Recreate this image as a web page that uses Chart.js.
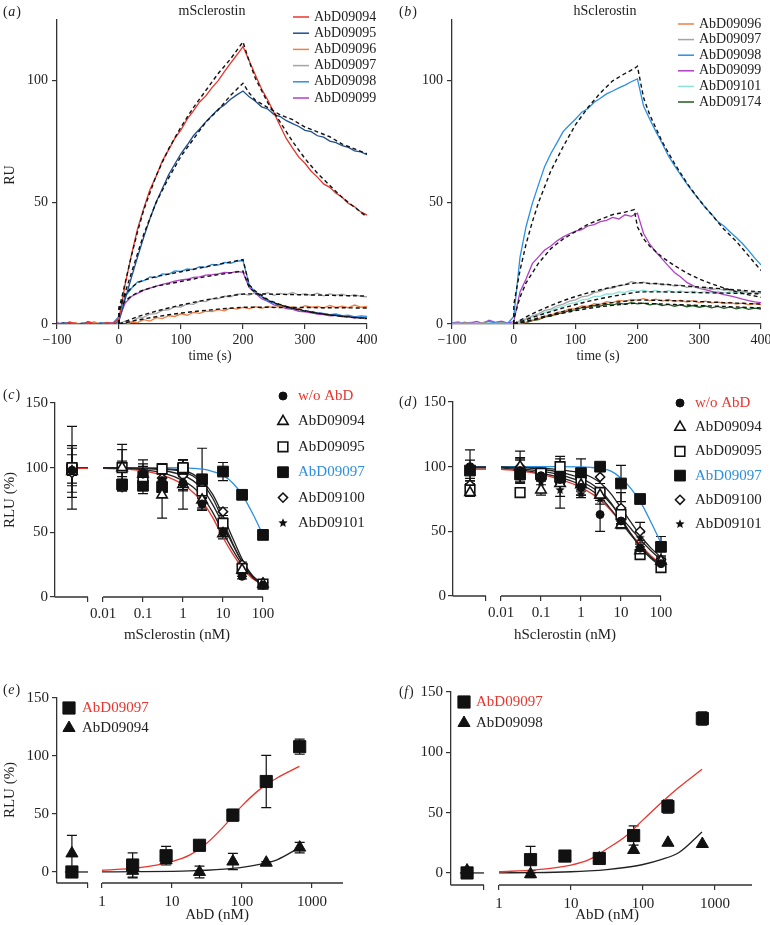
<!DOCTYPE html>
<html>
<head>
<meta charset="utf-8">
<script src="https://cdn.jsdelivr.net/npm/chart.js@4.4.1/dist/chart.umd.min.js"></script>
<style>
  body { margin: 0; background: #fff; width: 770px; height: 925px; position: relative; overflow: hidden; }
  canvas { position: absolute; }
</style>
</head>
<body>
<canvas id="pa" width="385" height="365" style="left:0;top:0"></canvas>
<canvas id="pb" width="385" height="365" style="left:385px;top:0"></canvas>
<canvas id="pc" width="385" height="285" style="left:0;top:365px"></canvas>
<canvas id="pd" width="385" height="285" style="left:385px;top:365px"></canvas>
<canvas id="pe" width="385" height="275" style="left:0;top:650px"></canvas>
<canvas id="pf" width="385" height="275" style="left:385px;top:650px"></canvas>
<script>
// ---- (a)/(b) sensorgrams, RU every 10 s from -100 to 400 s ----
const TIME = [-100,-90,-80,-70,-60,-50,-40,-30,-20,-10,
  0,10,20,30,40,50,60,70,80,90,100,110,120,130,140,150,160,170,180,190,200,
  210,220,230,240,250,260,270,280,290,300,310,320,330,340,350,360,370,380,390,400];

const A_09094 = [0.4,-0.3,0.6,0.1,-0.5,0.8,0.2,-0.2,0.5,0.3,
  2.1,16.4,28.3,39.2,47.6,55.3,60.8,67.2,71.6,76.3,79.8,84.2,87.6,91.3,93.8,97.2,100.1,103.8,107.3,110.6,114.1,
  108.2,102.4,96.6,92.1,86.8,81.4,76.2,72.3,68.6,66.1,62.8,60.4,57.6,56.2,53.8,52.1,49.6,48.2,46.1,44.8];
const A_09095 = [-0.2,0.5,0.1,-0.4,0.3,0.6,-0.1,0.4,0.2,-0.3,
  1.2,10.3,19.1,27.6,35.8,43.4,50.2,55.7,61.3,65.8,70.1,73.6,77.4,80.2,83.1,85.7,88.3,90.1,92.4,94.2,95.8,
  93.4,91.6,89.3,88.4,86.1,85.3,83.6,82.4,81.2,79.6,79.1,77.4,76.8,75.2,74.6,73.3,72.6,71.2,70.8,69.6];
const A_09096 = [0.3,-0.4,0.2,0.5,-0.3,0.1,0.9,-0.2,0.3,-0.1,
  0.2,-0.3,0.8,0.6,1.8,1.2,2.6,2.2,3.4,3.1,4.2,3.6,4.8,4.4,5.3,5.1,5.9,5.4,6.6,6.1,6.8,
  6.2,7.1,6.4,7.2,6.6,7.4,6.8,7.0,6.3,7.5,6.9,7.2,6.6,7.6,6.8,7.3,6.7,7.8,6.9,7.2];
const A_09097 = [-0.2,0.3,0.1,-0.3,0.4,0.0,-0.4,0.2,0.5,-0.1,
  0.1,1.2,0.8,2.4,2.8,4.1,4.3,5.6,5.8,7.1,7.0,8.3,8.1,9.4,9.2,10.4,10.3,11.4,11.2,12.3,12.4,
  11.9,12.8,12.0,12.9,11.8,12.6,12.1,13.0,11.9,12.5,11.8,12.7,11.6,12.4,11.9,12.3,11.5,12.1,11.4,11.2];
const A_09098 = [0.2,-0.3,0.4,0.1,-0.2,0.5,0.0,-0.4,0.3,0.2,
  3.2,11.4,14.6,17.3,17.8,19.4,19.1,20.6,20.4,21.8,21.6,22.7,22.4,23.6,23.3,24.5,24.2,25.3,24.9,25.8,26.1,
  16.3,12.8,11.2,9.4,8.6,7.3,7.1,6.2,6.0,5.3,5.1,4.6,4.4,3.8,4.1,3.4,3.6,2.9,3.3,3.1];
const A_09099 = [0.6,-0.2,0.9,0.3,-0.4,1.0,0.2,-0.3,0.7,0.4,
  2.1,8.6,11.3,12.6,13.9,14.8,15.6,16.3,16.9,17.6,18.1,18.4,19.2,19.4,20.1,20.3,20.6,21.2,21.0,21.6,21.2,
  15.1,12.6,10.4,9.3,7.9,7.2,6.3,6.0,5.2,5.0,4.6,4.1,3.9,3.4,3.6,2.9,3.2,2.4,2.8,2.6];

// fitted (dashed) curves of (a)
const FIT_T_A = [0,0,10,20,30,40,60,80,100,120,140,160,180,200,210,220,240,260,280,300,320,340,360,380,400];
const A_FIT_09094 = [0,6,17,28,38,47,61,72,81,89,96,103,109,116,108,101,91,83,75,68,62,57,52,48,44];
const A_FIT_09095 = [0,5,13,21,29,37,50,60,69,76,83,88,94,99,95,92,89,86,84,81,79,77,74,72,70];
const A_FIT_09096 = [0,0,0.5,1.1,1.6,2.1,3.0,3.8,4.5,5.1,5.6,6.1,6.5,6.9,6.9,6.9,6.9,6.8,6.8,6.8,6.7,6.7,6.7,6.6,6.6];
const A_FIT_09097 = [0,0,1,2,3,3.8,5.3,6.6,7.8,8.9,9.9,10.8,11.6,12.3,12.4,12.4,12.3,12.2,12.1,12,11.9,11.8,11.7,11.6,11.5];
const A_FIT_09098 = [0,7,12,15,17,18,19.5,20.5,21.5,22.5,23.5,24.5,25.5,26.5,16,13.5,10,8,6.5,5.5,4.5,3.8,3.2,2.7,2.3];
const A_FIT_09099 = [0,6,9.5,11.5,13,14,15.5,16.5,17.5,18.5,19.5,20.3,21,21.8,15,13,9.7,7.8,6.4,5.3,4.4,3.7,3.1,2.6,2.2];

const B_09096 = [0.2,-0.3,0.4,0.1,-0.2,0.3,0.0,-0.1,0.2,0.1,
  0.0,0.3,0.8,1.6,2.1,3.2,3.6,4.8,5.1,6.2,6.3,7.4,7.2,8.4,8.1,9.2,8.8,9.7,9.3,10.1,9.8,
  10.4,9.6,10.2,9.4,10.1,9.2,9.8,9.0,9.6,8.8,9.4,8.7,9.1,8.4,8.9,8.2,8.6,8.0,8.4,7.9];
const B_09097 = [0.1,0.4,-0.2,0.3,0.0,0.5,-0.1,0.2,0.4,0.0,
  0.2,1.3,2.1,3.4,4.2,5.6,6.1,7.5,8.2,9.4,9.9,11.2,11.6,12.9,13.4,14.6,14.8,15.9,16.1,17.4,16.8,
  17.2,16.4,16.9,16.0,16.4,15.6,16.0,15.1,15.5,14.7,15.0,14.2,14.6,13.8,14.1,13.3,13.6,12.8,13.1,12.6];
const B_09098 = [0.5,-0.2,0.8,0.3,-0.1,0.6,1.2,0.4,0.9,0.2,
  3.1,27.4,40.2,49.6,57.3,64.8,70.1,74.6,79.2,81.8,84.3,87.1,88.6,91.2,92.8,94.6,95.8,97.1,98.2,99.6,100.8,
  89.6,84.2,79.1,74.3,69.2,65.1,61.3,57.6,54.2,51.1,47.8,45.2,42.1,40.3,37.8,35.6,33.1,30.2,27.1,24.3];
const B_09099 = [0.3,0.8,-0.2,0.5,1.1,0.2,1.6,0.7,1.2,0.4,
  1.0,13.2,18.6,24.8,27.6,30.4,32.1,34.2,35.8,37.1,38.2,38.8,40.3,40.9,42.1,42.6,43.8,43.2,44.9,44.3,45.6,
  37.2,32.8,29.6,26.8,23.9,21.2,19.3,17.1,15.8,14.6,14.1,13.4,12.8,12.1,11.6,10.9,10.2,9.6,9.1,8.8];
const B_09101 = [0.6,1.0,0.3,0.8,0.5,0.2,0.7,0.4,0.9,0.3,
  0.1,0.9,1.8,2.9,3.6,4.8,5.4,6.6,7.3,8.4,8.8,9.9,10.2,11.3,11.4,12.4,12.3,13.2,13.0,13.8,13.4,
  13.9,13.2,13.8,13.1,13.7,13.0,13.6,12.9,13.5,12.8,13.4,12.9,13.5,12.7,13.3,12.8,13.4,12.6,13.2,12.9];
const B_09174 = [0.0,0.3,-0.2,0.2,-0.1,0.1,0.3,-0.2,0.1,0.0,
  0.0,0.2,0.6,1.4,1.8,2.9,3.2,4.3,4.6,5.6,5.8,6.7,6.8,7.6,7.4,8.2,7.8,8.6,8.1,8.8,8.3,
  8.6,7.9,8.4,7.6,8.1,7.3,7.9,7.1,7.6,6.9,7.4,6.6,7.2,6.4,7.0,6.2,6.8,6.0,6.5,6.1];

const FIT_T_B = [0,0,10,20,30,40,60,80,100,120,140,160,180,195,200,210,220,240,260,280,300,320,340,360,380,400];
const B_FIT_09096 = [0,0,0.5,1.1,1.8,2.5,3.9,5.2,6.3,7.3,8.1,8.8,9.4,9.7,9.8,9.8,9.8,9.7,9.6,9.4,9.2,9.0,8.8,8.6,8.4,8.2];
const B_FIT_09097 = [0,0,1.5,2.9,4.2,5.4,7.6,9.6,11.3,12.8,14.1,15.2,16.2,16.8,17.0,16.9,16.7,16.4,16.0,15.6,15.2,14.8,14.4,14.0,13.6,13.2];
const B_FIT_09098 = [0,8,22,33,42,50,63,73,82,89,95,100,103,105,106,93,86,75,66,58,51,45,39,34,28,22];
const B_FIT_09099 = [0,2,11,17,21,25,31,35,38,41,43,45,46,47,40,35,32,27.5,24,21,18.5,16.5,14.8,13.3,12,11];
const B_FIT_09101 = [0,0,0.9,1.8,2.7,3.5,5.1,6.6,8.0,9.3,10.4,11.4,12.3,12.9,13.1,13.2,13.2,13.2,13.1,13.0,12.9,12.8,12.7,12.6,12.5,12.4];
const B_FIT_09174 = [0,0,0.5,1.0,1.6,2.2,3.4,4.5,5.5,6.4,7.1,7.7,8.2,8.5,8.6,8.5,8.4,8.2,8.0,7.8,7.6,7.4,7.2,7.0,6.8,6.6];

// ---- (c)/(d) RLU (%) vs sclerostin (nM); 0 nM sits left of the axis break ----
const CONC_CD = [0, 0.03, 0.1, 0.3, 1, 3, 10, 30, 100];
const C_WO   = [98, 86, 95, 90, 88, 72, 50, 16, 9];
const C_WO_E = [12, 3, 4, 5, 5, 4, 3, 2, 1];
const C_94   = [97, 100, 95, 79, 87, 75, 49, 21, 10];
const C_94_E = [20, 18, 8, 18, 19, 6, 4, 2, 1];
const C_95   = [100, 100, 93, 99, 100, 82, 57, 22, 10];
const C_95_E = [32, 14, 13, 4, 6, 5, 4, 2, 1];
const C_97   = [99, 87, 86, 85, 99, 91, 97, 79, 48];
const C_97_E = [5, 4, 3, 4, 5, 24, 7, 2, 2];
const C_100  = [96, 85, 94, 92, 94, 85, 66, 25, 11];
const C_100_E= [8, 3, 4, 5, 12, 5, 3, 2, 1];
const C_101  = [98, 99, 97, 95, 92, 78, 55, 18, 9];
const C_101_E= [17, 6, 4, 8, 5, 4, 3, 2, 1];

const D_WO   = [100, 97, 93, 90, 84, 63, 58, 37, 25];
const D_WO_E = [13, 10, 4, 5, 6, 13, 4, 3, 2];
const D_94   = [80, 100, 82, 87, 86, 78, 55, 35, 27];
const D_94_E = [3, 12, 4, 19, 5, 4, 3, 3, 2];
const D_95   = [82, 80, 95, 100, 88, 80, 63, 32, 22];
const D_95_E = [3, 3, 5, 8, 10, 4, 4, 3, 2];
const D_97   = [97, 94, 94, 92, 95, 100, 87, 75, 38];
const D_97_E = [8, 6, 3, 4, 11, 3, 14, 3, 8];
const D_100  = [86, 100, 93, 93, 92, 92, 68, 50, 28];
const D_100_E= [5, 5, 4, 5, 4, 5, 12, 7, 3];
const D_101  = [85, 98, 88, 82, 79, 75, 58, 45, 26];
const D_101_E= [4, 8, 8, 5, 3, 4, 3, 4, 2];

// fitted curves, sampled at log10(nM)
const FIT_LOGX_CD = [-2, -1.5, -1, -0.5, 0, 0.25, 0.5, 0.75, 1, 1.25, 1.5, 1.75, 2];
const C_FIT_WO  = [99.5, 99, 97.5, 94, 87, 81, 73, 61, 46, 33, 22, 14, 10];
const C_FIT_94  = [99.8, 99.5, 98.5, 96, 90, 85, 77, 65, 50, 36, 24, 15, 10];
const C_FIT_95  = [100, 99.9, 99.7, 99, 97, 93.5, 87, 76, 59, 41, 26, 15, 9];
const C_FIT_97  = [100, 100, 100, 100, 99.8, 99.5, 98.8, 97, 94, 88, 78, 64, 48];
const C_FIT_100 = [100, 99.9, 99.8, 99.3, 98, 95, 89, 79, 63, 45, 28, 16, 10];
const C_FIT_101 = [100, 99.8, 99.5, 98, 94, 90, 83, 71, 56, 40, 26, 16, 10];
const D_FIT_WO  = [98, 96.5, 94, 90, 84, 79.5, 74, 66, 57, 48, 39, 31, 25];
const D_FIT_94  = [99, 97.5, 95, 91.5, 86, 82, 76, 67, 57, 47, 38, 30, 24];
const D_FIT_95  = [99.8, 99.3, 98, 95.5, 91, 87, 81, 72, 60, 48, 37, 29, 23];
const D_FIT_97  = [100, 100, 100, 100, 99.8, 99.4, 98.5, 96.5, 91, 83, 72, 57, 41];
const D_FIT_100 = [100, 99.7, 99, 97.5, 95, 92, 87, 79, 68, 57, 46, 37, 30];
const D_FIT_101 = [99.5, 98.5, 96.5, 93.5, 88.5, 84.5, 79, 71, 61, 52, 43, 35, 28];

// ---- (e)/(f) RLU (%) vs AbD (nM) ----
const CONC_EF = [0, 2.74, 8.23, 24.7, 74.1, 222, 667];
const E_97   = [0, 6, 14, 23, 49, 78, 108];
const E_97_E = [0, 10.5, 8, 2, 5, 22.5, 6.5];
const E_94   = [16, 1, 10, 0, 9, 8, 21];
const E_94_E = [15.5, 6, 2.5, 5, 7, 1, 4.5];
const F_97   = [0, 11, 14, 12, 31, 55, 128];
const F_97_E = [0, 11, 2, 1, 8, 5.5, 5.5];
const F_98   = [2, -1, 13, 12, 19, 25, 24];
const F_98_E = [1.5, 3, 0, 0, 0, 0, 0];

const FIT_LOGX_EF = [0, 0.5, 1, 1.25, 1.5, 1.75, 2, 2.25, 2.5, 2.82];
const E_FIT_97 = [1.5, 3.5, 9, 14.5, 25, 40, 57, 71, 81, 91];
const E_FIT_94 = [0.1, 0.3, 0.6, 0.9, 1.5, 2.5, 4, 6.5, 10.5, 21];
const F_FIT_97 = [1, 2.5, 6.5, 11, 20, 30, 44, 58, 71, 86];
const F_FIT_98 = [0.1, 0.3, 1, 1.7, 2.8, 4.5, 7, 11, 17, 34];

// ---- look ----
const SERIF = '"Liberation Serif", "Times New Roman", serif';
const INK = '#222';
const AXIS = '#333';
const RED = '#e8352d';
const NAVY = '#1f4f8e';
const ORANGE = '#ec8049';
const GREY = '#a4a4a4';
const SKY = '#2b8fe3';
const MAGENTA = '#b13fc8';
const CYAN = '#8fe2d8';
const GREEN = '#1f5d22';

Chart.defaults.font.family = SERIF;
Chart.defaults.color = INK;

function starImage(r) {
    const c = document.createElement('canvas');
    const s = Math.ceil(r * 2 + 2);
    c.width = c.height = s;
    const g = c.getContext('2d');
    g.fillStyle = '#111';
    g.beginPath();
    for (let i = 0; i < 10; i++) {
        const a = -Math.PI / 2 + i * Math.PI / 5;
        const rr = i % 2 ? r * 0.45 : r;
        g.lineTo(s / 2 + rr * Math.cos(a), s / 2 + rr * Math.sin(a));
    }
    g.closePath();
    g.fill();
    return c;
}

const MK = {
    dot     : {style: 'circle',   r: 4,   fill: '#111', stroke: '#111', bw: 1},
    triOpen : {style: 'triangle', r: 6,   fill: '#fff', stroke: '#111', bw: 1.6},
    sqOpen  : {style: 'rect',     r: 6.8, fill: '#fff', stroke: '#111', bw: 1.6},
    sqFill  : {style: 'rect',     r: 7.6, fill: '#111', stroke: '#111', bw: 1},
    diamond : {style: 'rectRot',  r: 4.6, fill: '#fff', stroke: '#111', bw: 1.5},
    star    : {style: starImage(4.8), r: 5, fill: '#111', stroke: '#111', bw: 0},
    sqBig   : {style: 'rect',     r: 8.6, fill: '#111', stroke: '#111', bw: 1},
    triFill : {style: 'triangle', r: 7,   fill: '#111', stroke: '#111', bw: 1}
};

function trace(xs, ys, color, order, extra) {
    return Object.assign({
        type: 'scatter', showLine: true,
        data: xs.map((x, i) => ({x, y: ys[i]})),
        borderColor: color, borderWidth: 1.3, pointRadius: 0, tension: 0, order
    }, extra || {});
}

function fit(xs, ys, color, order) {
    return trace(xs, ys, color, order, {borderWidth: 1.3, cubicInterpolationMode: 'monotone'});
}

function dashed(xs, ys) {
    return trace(xs, ys, '#111', 0, {borderWidth: 1.4, borderDash: [4, 3]});
}

function points(conc, ys, errs, m, zeroX) {
    return {
        type: 'scatter', order: 1, errors: errs, clip: false,
        data: conc.map((c, i) => ({x: c === 0 ? zeroX : Math.log10(c), y: ys[i]})),
        pointStyle: m.style, pointRadius: m.r, pointHoverRadius: m.r,
        pointBackgroundColor: m.fill, pointBorderColor: m.stroke, pointBorderWidth: m.bw
    };
}

// short piece of a fit drawn inside the left (0 nM) segment
function zeroPiece(ys, color, zeroX, segEnd) {
    return trace([zeroX - 0.1, segEnd], [ys[0], ys[0]], color, 6, {borderWidth: 1.3});
}

function scales(p) {
    return {
        x: {
            type: 'linear', min: p.xmin, max: p.xmax,
            afterBuildTicks: s => { s.ticks = p.xticks.map(v => ({value: v})); },
            afterFit: s => { s.height = p.xh; s.paddingLeft = 0; s.paddingRight = 0; },
            ticks: {callback: p.xlab, font: {size: p.fs}, color: INK, padding: p.xpad, autoSkip: false, maxRotation: 0},
            grid: {drawOnChartArea: false, color: AXIS, lineWidth: 1.2, tickLength: 5},
            border: {display: !p.split, color: AXIS, width: 1.3}
        },
        y: {
            type: 'linear', min: p.ymin, max: p.ymax,
            afterBuildTicks: s => { s.ticks = p.yticks.map(v => ({value: v})); },
            afterFit: s => { s.width = p.yw; s.paddingTop = 0; s.paddingBottom = 0; },
            ticks: {font: {size: p.fs}, color: INK, padding: p.ypad, autoSkip: false},
            grid: {drawOnChartArea: false, color: AXIS, lineWidth: 1.2, tickLength: 5},
            border: {color: AXIS, width: 1.3}
        }
    };
}

function label(ctx, str, x, y, o) {
    o = o || {};
    ctx.save();
    ctx.font = (o.size || 14) + 'px ' + SERIF;
    ctx.fillStyle = o.color || INK;
    ctx.textAlign = o.align || 'left';
    ctx.textBaseline = 'middle';
    if (o.rotate) {
        ctx.translate(x, y);
        ctx.rotate(-Math.PI / 2);
        ctx.fillText(str, 0, 0);
    } else {
        ctx.fillText(str, x, y);
    }
    ctx.restore();
}

function panelLetter(ctx, letter, x, y) {
    ctx.save();
    ctx.fillStyle = INK;
    ctx.textBaseline = 'middle';
    ctx.font = '14px ' + SERIF;
    ctx.fillText('(', x, y);
    let w = ctx.measureText('(').width + 0.5;
    ctx.font = 'italic 14px ' + SERIF;
    ctx.fillText(letter, x + w, y);
    w += ctx.measureText(letter).width + 1;
    ctx.font = '14px ' + SERIF;
    ctx.fillText(')', x + w, y);
    ctx.restore();
}

function marker(ctx, m, x, y) {
    ctx.save();
    ctx.fillStyle = m.fill;
    ctx.strokeStyle = m.stroke;
    ctx.lineWidth = m.bw;
    Chart.helpers.drawPoint(ctx, {pointStyle: m.style, radius: m.r, rotation: 0, borderWidth: m.bw}, x, y);
    ctx.restore();
}

// texts, legends, error bars and the broken x axis
function decor(d) {
    return {
        id: 'decor',
        beforeDatasetsDraw(chart) {
            const ctx = chart.ctx, ys = chart.scales.y;
            ctx.save();
            ctx.strokeStyle = '#111';
            ctx.lineWidth = 1.2;
            chart.data.datasets.forEach((ds, i) => {
                if (!ds.errors) return;
                chart.getDatasetMeta(i).data.forEach((pt, j) => {
                    const e = ds.errors[j];
                    if (!e) return;
                    const v = ds.data[j].y;
                    const t = ys.getPixelForValue(v + e), b = ys.getPixelForValue(v - e);
                    ctx.beginPath();
                    ctx.moveTo(pt.x, t); ctx.lineTo(pt.x, b);
                    ctx.moveTo(pt.x - 5, t); ctx.lineTo(pt.x + 5, t);
                    ctx.moveTo(pt.x - 5, b); ctx.lineTo(pt.x + 5, b);
                    ctx.stroke();
                });
            });
            ctx.restore();
        },
        afterDraw(chart) {
            const ctx = chart.ctx, a = chart.chartArea, xs = chart.scales.x;
            if (d.split) {
                ctx.save();
                ctx.strokeStyle = AXIS;
                ctx.lineWidth = 1.3;
                ctx.beginPath();
                ctx.moveTo(a.left, a.bottom);
                ctx.lineTo(xs.getPixelForValue(d.split[0]), a.bottom);
                ctx.moveTo(xs.getPixelForValue(d.split[1]), a.bottom);
                ctx.lineTo(a.right, a.bottom);
                ctx.stroke();
                ctx.restore();
            }
            panelLetter(ctx, d.letter[0], d.letter[1], d.letter[2]);
            if (d.title) label(ctx, d.title[0], d.title[1], d.title[2], {align: 'center'});
            if (d.xTitle) label(ctx, d.xTitle[0], d.xTitle[1], d.xTitle[2], {align: 'center', size: d.fs});
            if (d.yTitle) label(ctx, d.yTitle[0], d.yTitle[1], d.yTitle[2], {align: 'center', size: d.fs, rotate: true});
            const L = d.legend;
            L.items.forEach((it, i) => {
                const y = L.y + i * L.dy;
                if (it.line) {
                    ctx.save();
                    ctx.strokeStyle = it.line;
                    ctx.lineWidth = 1.5;
                    ctx.beginPath();
                    ctx.moveTo(L.mx, y);
                    ctx.lineTo(L.mx + 16, y);
                    ctx.stroke();
                    ctx.restore();
                } else {
                    marker(ctx, it.mark, L.mx, y);
                }
                label(ctx, it.text, L.tx, y, {color: it.color || INK, size: L.fs});
            });
        }
    };
}

function draw(id, datasets, p, d) {
    new Chart(document.getElementById(id), {
        type: 'scatter',
        data: {datasets},
        options: {
            responsive: false, animation: false, devicePixelRatio: 1, events: [],
            layout: {padding: {top: p.top, right: p.right, left: 0, bottom: 0}},
            plugins: {legend: {display: false}, tooltip: {enabled: false}},
            scales: scales(p)
        },
        plugins: [decor(d)]
    });
}

const signed = v => (v < 0 ? '\u2212' + Math.abs(v) : String(v));
const logLabel = names => v => (names[String(v)] !== undefined ? names[String(v)] : '');

// ---- (a) ----
const A_SERIES = [
    ['AbD09094', A_09094, A_FIT_09094, RED],
    ['AbD09095', A_09095, A_FIT_09095, NAVY],
    ['AbD09096', A_09096, A_FIT_09096, ORANGE],
    ['AbD09097', A_09097, A_FIT_09097, GREY],
    ['AbD09098', A_09098, A_FIT_09098, SKY],
    ['AbD09099', A_09099, A_FIT_09099, MAGENTA]
];
draw('pa',
    A_SERIES.map((s, i) => trace(TIME, s[1], s[3], 1 + i)).concat(A_SERIES.map(s => dashed(FIT_T_A, s[2]))),
    {xmin: -100, xmax: 400, xticks: [-100, 0, 100, 200, 300, 400], xlab: signed, ymin: 0, ymax: 125, yticks: [0, 50, 100],
     top: 20, right: 18, xh: 41, yw: 57, fs: 14, xpad: 3, ypad: 4},
    {letter: ['a', 3, 12], title: ['mSclerostin', 212, 11], xTitle: ['time (s)', 210, 356], yTitle: ['RU', 10, 175], fs: 14,
     legend: {mx: 293, tx: 314, y: 17, dy: 16.2, fs: 14, items: A_SERIES.map(s => ({text: s[0], line: s[3]}))}});

// ---- (b) ----
const B_SERIES = [
    ['AbD09096', B_09096, B_FIT_09096, ORANGE],
    ['AbD09097', B_09097, B_FIT_09097, GREY],
    ['AbD09098', B_09098, B_FIT_09098, SKY],
    ['AbD09099', B_09099, B_FIT_09099, MAGENTA],
    ['AbD09101', B_09101, B_FIT_09101, CYAN],
    ['AbD09174', B_09174, B_FIT_09174, GREEN]
];
draw('pb',
    B_SERIES.map((s, i) => trace(TIME, s[1], s[3], 1 + i)).concat(B_SERIES.map(s => dashed(FIT_T_B, s[2]))),
    {xmin: -100, xmax: 400, xticks: [-100, 0, 100, 200, 300, 400], xlab: signed, ymin: 0, ymax: 125, yticks: [0, 50, 100],
     top: 20, right: 9, xh: 41, yw: 67, fs: 14, xpad: 3, ypad: 4},
    {letter: ['b', 14, 12], title: ['hSclerostin', 220, 11], xTitle: ['time (s)', 213, 356], fs: 14,
     legend: {mx: 293, tx: 314, y: 24, dy: 15.6, fs: 14, items: B_SERIES.map(s => ({text: s[0], line: s[3]}))}});

// ---- (c) / (d) ----
const ZERO_CD = -2.775, SEG_END_CD = -2.375;
const CD_TICKS = {'-2': '0.01', '-1': '0.1', '0': '1', '1': '10', '2': '100'};
const CD_LEGEND = [
    {text: 'w/o AbD', mark: MK.dot, color: RED},
    {text: 'AbD09094', mark: MK.triOpen},
    {text: 'AbD09095', mark: MK.sqOpen},
    {text: 'AbD09097', mark: MK.sqFill, color: SKY},
    {text: 'AbD09100', mark: MK.diamond},
    {text: 'AbD09101', mark: MK.star}
];

function doseSets(pts, fits) {
    const marks = [MK.dot, MK.triOpen, MK.sqOpen, MK.sqFill, MK.diamond, MK.star];
    const colors = [RED, INK, INK, SKY, INK, INK];
    const out = [];
    fits.forEach((f, i) => {
        out.push(fit(FIT_LOGX_CD, f, colors[i], i === 0 ? 8 : 5));
        out.push(zeroPiece(f, colors[i], ZERO_CD, SEG_END_CD));
    });
    pts.forEach((p, i) => out.push(points(CONC_CD, p[0], p[1], marks[i], ZERO_CD)));
    return out;
}

const CD_SCALE = {xmin: -3.2, xmax: 2, xticks: [SEG_END_CD, -2, -1, 0, 1, 2], xlab: logLabel(CD_TICKS),
    ymin: 0, ymax: 150, yticks: [0, 50, 100, 150], fs: 15, xpad: 3, ypad: 2, split: true};

draw('pc',
    doseSets([[C_WO, C_WO_E], [C_94, C_94_E], [C_95, C_95_E], [C_97, C_97_E], [C_100, C_100_E], [C_101, C_101_E]],
             [C_FIT_WO, C_FIT_94, C_FIT_95, C_FIT_97, C_FIT_100, C_FIT_101]),
    Object.assign({top: 38, right: 122, xh: 53, yw: 55}, CD_SCALE),
    {letter: ['c', 3, 30], xTitle: ['mSclerostin (nM)', 177, 270], yTitle: ['RLU (%)', 10, 135], fs: 15,
     split: [SEG_END_CD, -2], legend: {mx: 283, tx: 298, y: 31, dy: 25.4, fs: 15, items: CD_LEGEND}});

draw('pd',
    doseSets([[D_WO, D_WO_E], [D_94, D_94_E], [D_95, D_95_E], [D_97, D_97_E], [D_100, D_100_E], [D_101, D_101_E]],
             [D_FIT_WO, D_FIT_94, D_FIT_95, D_FIT_97, D_FIT_100, D_FIT_101]),
    Object.assign({top: 37, right: 109, xh: 54, yw: 68}, CD_SCALE),
    {letter: ['d', 14, 37], xTitle: ['hSclerostin (nM)', 180, 270], fs: 15,
     split: [SEG_END_CD, -2], legend: {mx: 295, tx: 310, y: 38, dy: 24.2, fs: 15, items: CD_LEGEND}});

// ---- (e) / (f) ----
const EF_TICKS = {'0': '1', '1': '10', '2': '100', '3': '1000'};

function rescueSets(sq, sqE, tri, triE, fitRed, fitBlack, zeroX, segEnd) {
    return [
        fit(FIT_LOGX_EF, fitRed, RED, 5),
        fit(FIT_LOGX_EF, fitBlack, INK, 6),
        zeroPiece([0], INK, zeroX, segEnd),
        points(CONC_EF, sq, sqE, MK.sqBig, zeroX),
        points(CONC_EF, tri, triE, MK.triFill, zeroX)
    ];
}

const ZERO_E = -0.43, SEG_END_E = -0.2;
draw('pe',
    rescueSets(E_97, E_97_E, E_94, E_94_E, E_FIT_97, E_FIT_94, ZERO_E, SEG_END_E),
    {xmin: -0.643, xmax: 3.443, xticks: [SEG_END_E, 0, 1, 2, 3], xlab: logLabel(EF_TICKS),
     ymin: -9.5, ymax: 150, yticks: [0, 50, 100, 150], fs: 15, xpad: 5, ypad: 3, split: true,
     top: 48, right: 42, xh: 42, yw: 57},
    {letter: ['e', 3, 40], xTitle: ['AbD (nM)', 217, 265], yTitle: ['RLU (%)', 10, 140], fs: 15,
     split: [SEG_END_E, 0], legend: {mx: 69, tx: 82, y: 58, dy: 20, fs: 15,
     items: [{text: 'AbD09097', mark: MK.sqBig, color: RED}, {text: 'AbD09094', mark: MK.triFill}]}});

const ZERO_F = -0.444, SEG_END_F = -0.208;
draw('pf',
    rescueSets(F_97, F_97_E, F_98, F_98_E, F_FIT_97, F_FIT_98, ZERO_F, SEG_END_F),
    {xmin: -0.667, xmax: 3.514, xticks: [SEG_END_F, 0, 1, 2, 3], xlab: logLabel(EF_TICKS),
     ymin: -10, ymax: 150, yticks: [0, 50, 100, 150], fs: 15, xpad: 5, ypad: 3, split: true,
     top: 42, right: 18, xh: 40, yw: 66},
    {letter: ['f', 14, 42], xTitle: ['AbD (nM)', 222, 265], fs: 15,
     split: [SEG_END_F, 0], legend: {mx: 79, tx: 91, y: 52, dy: 21, fs: 15,
     items: [{text: 'AbD09097', mark: MK.sqBig, color: RED}, {text: 'AbD09098', mark: MK.triFill}]}});
</script>
</body>
</html>
